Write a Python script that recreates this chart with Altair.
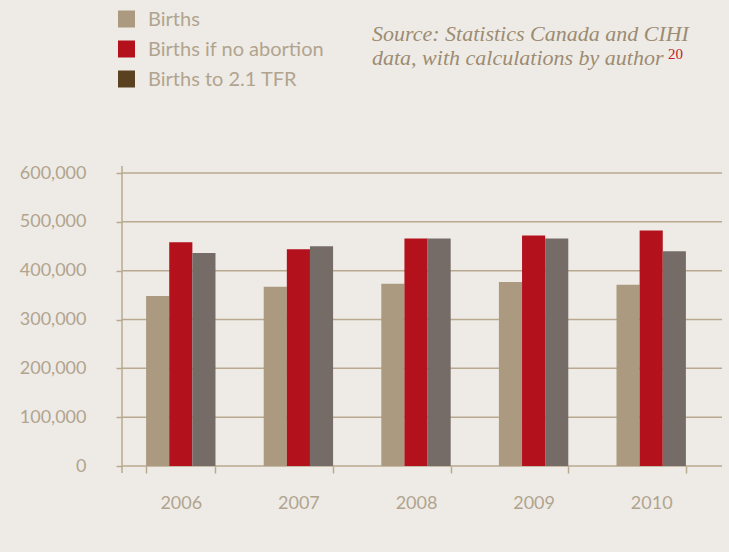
import altair as alt
import pandas as pd

years = ["2006", "2007", "2008", "2009", "2010"]
series = ["Births", "Births if no abortion", "Births to 2.1 TFR"]
births = [348000, 367000, 373000, 377000, 371000]
births_no_abortion = [458000, 444000, 466000, 472000, 482000]
births_tfr = [436000, 450000, 466000, 466000, 440000]
bar_colors = ["#ab9a80", "#b3111c", "#766c67"]
legend_colors = ["#ab9a80", "#b3111c", "#5a4220"]
y_ticks = [0, 100000, 200000, 300000, 400000, 500000, 600000]
source_lines = ["Source: Statistics Canada and CIHI", "data, with calculations by author"]
footnote = "20"

rows = []
for s, vals in zip(series, [births, births_no_abortion, births_tfr]):
    for yr, v in zip(years, vals):
        rows.append({"year": yr, "series": s, "value": v})
df = pd.DataFrame(rows)

TXT = "#b1a48f"
LINE = "#b8a98f"
BG = "#eeebe6"
W, H = 588, 293

y_scale = alt.Scale(domain=[0, 600000], nice=False, zero=True)

bars = alt.Chart(df).mark_bar().encode(
    x=alt.X("year:N", sort=years, title=None,
            scale=alt.Scale(paddingInner=0.41, paddingOuter=0.205),
            axis=alt.Axis(tickBand="extent", domain=False, tickSize=7, tickColor=LINE,
                          tickWidth=1.5, labelColor=TXT, labelFont="Lato", labelFontSize=18,
                          labelPadding=21, labelAngle=0, grid=False)),
    xOffset=alt.XOffset("series:N", sort=series,
                        scale=alt.Scale(paddingInner=0, paddingOuter=0)),
    y=alt.Y("value:Q", scale=y_scale, title=None,
            axis=alt.Axis(values=y_ticks, format=",.0f", domain=False, tickSize=6, tickColor=LINE,
                          tickWidth=1.5, labelColor=TXT, labelFont="Lato", labelFontSize=18,
                          labelPadding=30, grid=False)),
    color=alt.Color("series:N", sort=series,
                    scale=alt.Scale(domain=series, range=bar_colors), legend=None),
)

grid = alt.Chart(pd.DataFrame({"v": y_ticks})).mark_rule(color=LINE, strokeWidth=1.5).encode(
    y=alt.Y("v:Q", scale=y_scale),
    x=alt.value(0), x2=alt.value(600),
)

yaxis_line = alt.Chart(pd.DataFrame({"a": [0]})).mark_rule(color=LINE, strokeWidth=1.5).encode(
    x=alt.value(0), y=alt.value(-7), y2=alt.value(H + 7),
)

legend_layers = []
for i, (s, c) in enumerate(zip(series, legend_colors)):
    yc = -154 + 30 * i
    legend_layers.append(
        alt.Chart(pd.DataFrame({"a": [0]})).mark_square(size=289, color=c, opacity=1).encode(
            x=alt.value(4.5), y=alt.value(yc))
    )
    legend_layers.append(
        alt.Chart(pd.DataFrame({"a": [0]})).mark_text(
            text=s, align="left", baseline="middle", font="Lato", fontSize=20, color=TXT
        ).encode(x=alt.value(26), y=alt.value(yc + 1))
    )

src_layers = []
for i, line in enumerate(source_lines):
    src_layers.append(
        alt.Chart(pd.DataFrame({"a": [0]})).mark_text(
            text=line, align="left", baseline="alphabetic", font="Liberation Serif",
            fontStyle="italic", fontSize=22, color="#9c8c72"
        ).encode(x=alt.value(250), y=alt.value(-132 + 24 * i))
    )
src_layers.append(
    alt.Chart(pd.DataFrame({"a": [0]})).mark_text(
        text=footnote, align="left", baseline="alphabetic", font="Liberation Serif",
        fontSize=15, color="#c0202a"
    ).encode(x=alt.value(546), y=alt.value(-114))
)

chart = alt.layer(grid, yaxis_line, bars, *legend_layers, *src_layers).properties(
    width=W, height=H,
    background=BG,
    padding={"left": 122, "top": 173, "right": 729 - 122 - W, "bottom": 552 - 173 - H},
    autosize=alt.AutoSizeParams(type="none"),
).configure_view(stroke=None)

chart.save("out.html", embed_options={"renderer": "svg", "actions": False})
